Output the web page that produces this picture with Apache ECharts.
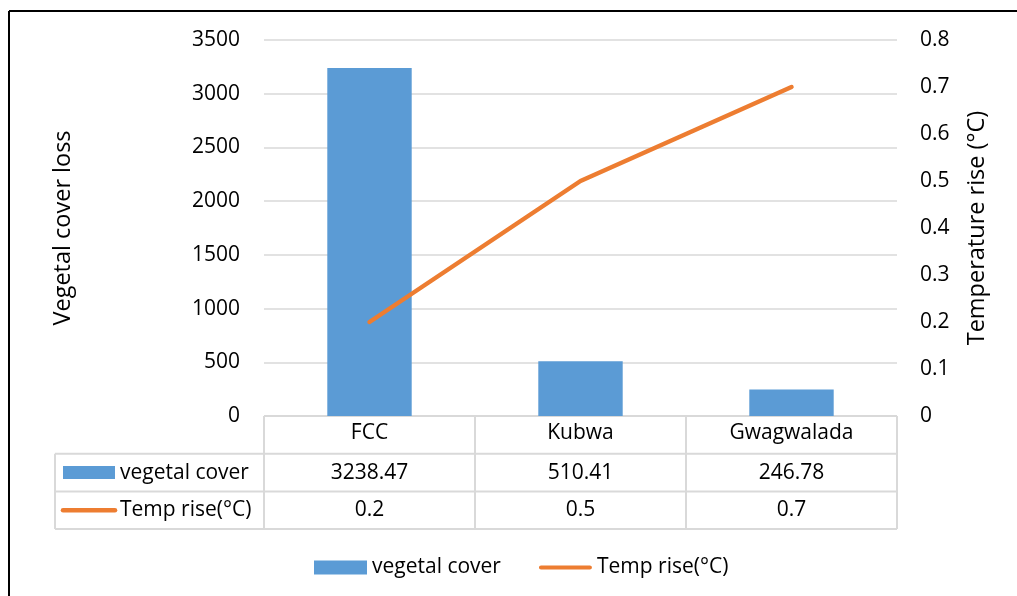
<!DOCTYPE html>
<html>
<head>
<meta charset="utf-8">
<script src="https://cdn.jsdelivr.net/npm/echarts@6/dist/echarts.min.js"></script>
<style>
  html, body { margin: 0; padding: 0; background: #fff; }
  #chart { width: 1017px; height: 596px; }
</style>
</head>
<body>
<div id="chart"></div>
<script>
// Data
const categories = ['FCC', 'Kubwa', 'Gwagwalada'];
const vegetalCover = [3238.47, 510.41, 246.78];
const tempRise = [0.2, 0.5, 0.7];
const seriesNames = ['vegetal cover', 'Temp rise(°C)'];
const axisNames = ['Vegetal cover loss', 'Temperature rise (°C)'];

// Style
const FONT = "'Open Sans', 'Noto Sans', sans-serif";
const FS = 21;
const FS_NAME = 23.5;
const BLUE = '#5B9BD5';
const ORANGE = '#ED7D31';
const LINE_GREY = '#D9D9D9';
const TEXT = '#000000';

const chart = echarts.init(document.getElementById('chart'), null, { renderer: 'canvas' });

chart.setOption({
  animation: false,
  textStyle: { fontFamily: FONT, color: TEXT },
  grid: { left: 264, right: 120, top: 40, bottom: 180 },
  legend: {
    left: 314,
    top: 557,
    padding: 0,
    itemWidth: 53,
    itemHeight: 14,
    itemGap: 38,
    textStyle: { fontFamily: FONT, fontSize: FS, color: TEXT },
    data: [
      { name: seriesNames[0], icon: 'rect' },
      { name: seriesNames[1], icon: 'path://M2.25,0 L54.75,0 A2.25,2.25 0 0 1 54.75,4.5 L2.25,4.5 A2.25,2.25 0 0 1 2.25,0 Z' }
    ]
  },
  xAxis: {
    type: 'category',
    data: categories,
    axisLine: { show: false },
    axisTick: { show: false },
    axisLabel: { margin: 7, fontSize: FS, color: TEXT, fontFamily: FONT }
  },
  yAxis: [
    {
      type: 'value',
      min: 0, max: 3500, interval: 500,
      name: axisNames[0],
      nameLocation: 'middle',
      nameRotate: 90,
      nameGap: 189,
      nameTextStyle: { fontSize: FS_NAME, color: TEXT, fontFamily: FONT },
      axisLine: { show: false },
      axisTick: { show: false },
      axisLabel: { margin: 24, fontSize: FS, color: TEXT, fontFamily: FONT, formatter: v => String(v) },
      splitLine: { lineStyle: { color: LINE_GREY, width: 1.5 } }
    },
    {
      type: 'value',
      position: 'right',
      min: 0, max: 0.8, interval: 0.1,
      name: axisNames[1],
      nameLocation: 'middle',
      nameRotate: 90,
      nameGap: 68,
      nameTextStyle: { fontSize: FS_NAME, color: TEXT, fontFamily: FONT },
      axisLine: { show: false },
      axisTick: { show: false },
      axisLabel: { margin: 23, fontSize: FS, color: TEXT, fontFamily: FONT },
      splitLine: { show: false }
    }
  ],
  series: [
    {
      name: seriesNames[0],
      type: 'bar',
      yAxisIndex: 0,
      barWidth: '40%',
      itemStyle: { color: BLUE },
      data: vegetalCover
    },
    {
      name: seriesNames[1],
      type: 'line',
      yAxisIndex: 1,
      symbol: 'none',
      itemStyle: { color: ORANGE },
      lineStyle: { color: ORANGE, width: 4.5, cap: 'round' },
      data: tempRise
    }
  ]
});

// Data table under the plot, positioned from the axes' own scales
const c0 = chart.convertToPixel({ xAxisIndex: 0 }, 0);
const c1 = chart.convertToPixel({ xAxisIndex: 0 }, 1);
const band = c1 - c0;
const yBase = chart.convertToPixel({ yAxisIndex: 0 }, 0);
const colEdges = categories.map((_, i) => chart.convertToPixel({ xAxisIndex: 0 }, i) - band / 2);
colEdges.push(colEdges[colEdges.length - 1] + band);
const tableLeft = 55;
const rowH = 37.7;
const rowTops = [yBase, yBase + rowH, yBase + 2 * rowH, yBase + 3 * rowH];
const right = colEdges[colEdges.length - 1];

const els = [];
const line = (x1, y1, x2, y2, color, w) => els.push({
  type: 'line', silent: true,
  shape: { x1, y1, x2, y2 },
  style: { stroke: color, lineWidth: w }
});

// grid lines of the table
line(colEdges[0], rowTops[0], right, rowTops[0], LINE_GREY, 2);
for (let r = 1; r <= 3; r++) line(tableLeft, rowTops[r], right, rowTops[r], LINE_GREY, 2);
colEdges.forEach(x => line(x, rowTops[0], x, rowTops[3], LINE_GREY, 2));
line(tableLeft, rowTops[1], tableLeft, rowTops[3], LINE_GREY, 2);

// row headers with series keys
const rowMid = r => (rowTops[r] + rowTops[r + 1]) / 2;
els.push({
  type: 'rect', silent: true,
  shape: { x: 63, y: rowMid(1) - 6.5, width: 52, height: 13 },
  style: { fill: BLUE }
});
els.push({
  type: 'line', silent: true,
  shape: { x1: 63, y1: rowMid(2), x2: 115, y2: rowMid(2) },
  style: { stroke: ORANGE, lineWidth: 4.5, lineCap: 'round' }
});
const text = (x, y, t, align) => els.push({
  type: 'text', silent: true, x, y,
  style: { text: t, fill: TEXT, font: FS + 'px ' + FONT, align, verticalAlign: 'middle' }
});
text(120, rowMid(1), seriesNames[0], 'left');
text(120, rowMid(2), seriesNames[1], 'left');
categories.forEach((_, i) => {
  const cx = chart.convertToPixel({ xAxisIndex: 0 }, i);
  text(cx, rowMid(1), String(vegetalCover[i]), 'center');
  text(cx, rowMid(2), String(tempRise[i]), 'center');
});

// outer frame (top and left edges)
line(9, 11, 1017, 11, '#000', 2);
line(9, 11, 9, 596, '#000', 2);

chart.setOption({ graphic: { elements: els } });
</script>
</body>
</html>
